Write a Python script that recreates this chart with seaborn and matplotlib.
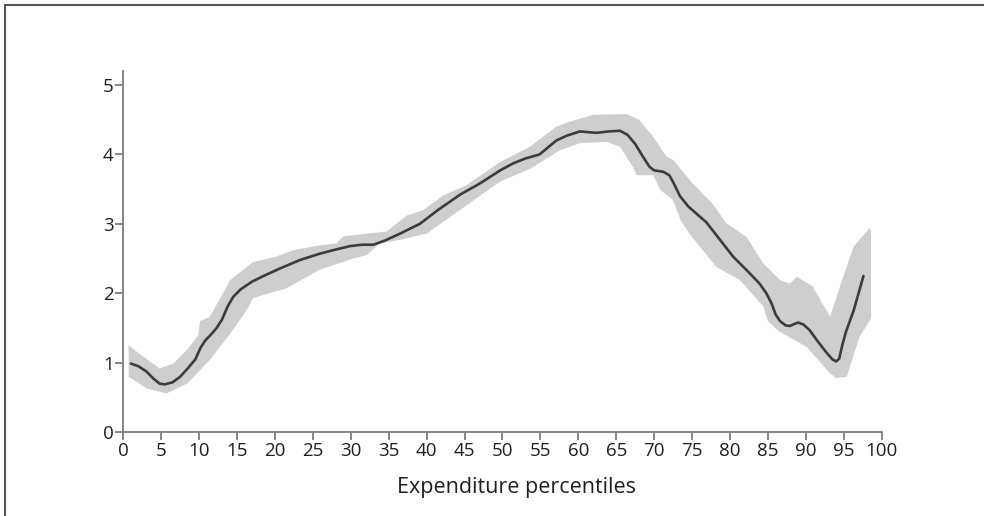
import numpy as np
import pandas as pd
import matplotlib
matplotlib.use('Agg')
import matplotlib.pyplot as plt
import seaborn as sns
from matplotlib.lines import Line2D

sns.set_theme(style='white')
plt.rcParams['font.family'] = ['Open Sans', 'DejaVu Sans']

# -------------------------------------------------------------
# DADOS
# -------------------------------------------------------------
pct = [1, 2, 3, 4, 4.8, 5.5, 6.5, 7.5, 8.5, 9.5, 10.2, 10.8, 11.5, 12.3,
       13, 13.8, 14.5, 15.5, 17, 18.5, 20.7, 23.3, 25.9, 28, 29.9, 31.5,
       33, 34.5, 36.5, 39.1, 41.5, 44.4, 47, 49.7, 51.4, 53, 54.9, 56,
       57.1, 58.5, 60.2, 62.4, 64, 65.5, 66.5, 67.5, 68.5, 69.4, 70, 71.2,
       72, 72.6, 73.4, 74.5, 76.9, 80.4, 82.5, 83.9, 84.8, 85.5, 86, 86.6,
       87.3, 87.9, 88.5, 89, 89.7, 90.5, 91.5, 92.7, 93.5, 94, 94.4, 94.8,
       95.3, 96.3, 97.6]
valor = [0.99, 0.95, 0.88, 0.77, 0.70, 0.69, 0.72, 0.80, 0.92, 1.05, 1.22,
         1.32, 1.40, 1.50, 1.62, 1.82, 1.95, 2.06, 2.17, 2.25, 2.36, 2.48,
         2.57, 2.63, 2.68, 2.70, 2.70, 2.76, 2.86, 3.00, 3.20, 3.42, 3.58,
         3.77, 3.87, 3.94, 4.00, 4.10, 4.20, 4.27, 4.33, 4.31, 4.33, 4.34,
         4.28, 4.15, 3.97, 3.82, 3.77, 3.75, 3.70, 3.58, 3.40, 3.25, 3.02,
         2.53, 2.30, 2.14, 2.00, 1.85, 1.70, 1.60, 1.54, 1.53, 1.56, 1.58,
         1.55, 1.47, 1.32, 1.15, 1.05, 1.02, 1.06, 1.25, 1.45, 1.75, 2.25]

sup_x = [0.7, 2.5, 4.8, 6.6, 8.5, 9.9, 10.1, 11.4, 14.1, 17.1, 20.2, 22.4,
         25.9, 28.1, 29, 34.7, 37.4, 39.6, 42.2, 45.3, 49.7, 53.6, 57.1, 58.9,
         62, 66.4, 68.1, 69.9, 71.6, 72.5, 75.1, 77.7, 79.5, 82.2, 84.4, 86.6,
         87.9, 88.8, 90.9, 93.2, 94.5, 96.3, 98.4, 98.6]
sup_y = [1.25, 1.10, 0.92, 0.99, 1.20, 1.40, 1.60, 1.66, 2.19, 2.45, 2.53,
         2.62, 2.69, 2.72, 2.82, 2.89, 3.12, 3.20, 3.41, 3.56, 3.89, 4.11,
         4.40, 4.47, 4.57, 4.58, 4.49, 4.25, 3.97, 3.92, 3.58, 3.29, 3.01,
         2.81, 2.43, 2.19, 2.14, 2.24, 2.10, 1.66, 2.10, 2.67, 2.94, 2.90]

inf_x = [0.7, 3.1, 5.7, 8.4, 11.4, 14.1, 16.3, 17.1, 19.8, 21.5, 25.9, 30.3,
         32.1, 33.8, 36.5, 40, 44.4, 49.7, 53.6, 57.6, 60.2, 63.7, 65.5, 67.2,
         67.7, 69.9, 70.8, 72.5, 73.5, 74.7, 78.2, 81.3, 84.4, 85.0, 86.5,
         90.1, 93.2, 94.0, 95.4, 97.1, 98.4, 98.6]
inf_y = [0.80, 0.63, 0.56, 0.70, 1.04, 1.42, 1.76, 1.93, 2.02, 2.07, 2.34,
         2.50, 2.55, 2.72, 2.77, 2.86, 3.20, 3.61, 3.79, 4.06, 4.16, 4.18,
         4.11, 3.82, 3.70, 3.70, 3.49, 3.34, 3.05, 2.85, 2.38, 2.19, 1.81,
         1.60, 1.45, 1.23, 0.85, 0.78, 0.80, 1.38, 1.60, 1.65]

df = pd.DataFrame({'percentil': pct, 'valor': valor})

# -------------------------------------------------------------
# GRÁFICO
# -------------------------------------------------------------
fig = plt.figure(figsize=(9.84, 5.16), dpi=100)
ax = fig.add_axes([0.1253, 0.1622, 0.7707, 0.7002])

banda_x = list(sup_x) + list(inf_x)[::-1]
banda_y = list(sup_y) + list(inf_y)[::-1]
ax.fill(banda_x, banda_y, color='#cdcecf', lw=0, zorder=1)

sns.lineplot(data=df, x='percentil', y='valor', ax=ax, color='#3c3c3c',
             linewidth=1.9, zorder=2, solid_joinstyle='round',
             solid_capstyle='round')

ax.set_xlim(0, 100)
ax.set_ylim(0, 5.2)
ax.set_xticks(range(0, 101, 5))
ax.set_yticks(range(0, 6))

for s in ['top', 'right']:
    ax.spines[s].set_visible(False)
for s in ['left', 'bottom']:
    ax.spines[s].set_color('#7d7d7f')
    ax.spines[s].set_linewidth(1.3)

ax.tick_params(axis='both', direction='out', length=6, width=1.3,
               color='#7d7d7f', labelsize=13.5, labelcolor='#231f20', pad=1)
ax.tick_params(axis='x', bottom=True)
ax.tick_params(axis='y', left=True)

ax.set_xlabel('Expenditure percentiles', fontsize=15.5, color='#231f20')
ax.xaxis.set_label_coords(0.518, -0.125)
ax.set_ylabel('')

# moldura (topo e esquerda)
fig.add_artist(Line2D([0.0054, 1.0], [0.9897, 0.9897], transform=fig.transFigure,
                      color='#555555', lw=1.5))
fig.add_artist(Line2D([0.0054, 0.0054], [0.0, 0.9897], transform=fig.transFigure,
                      color='#555555', lw=1.5))

plt.savefig('out.png', dpi=100)
